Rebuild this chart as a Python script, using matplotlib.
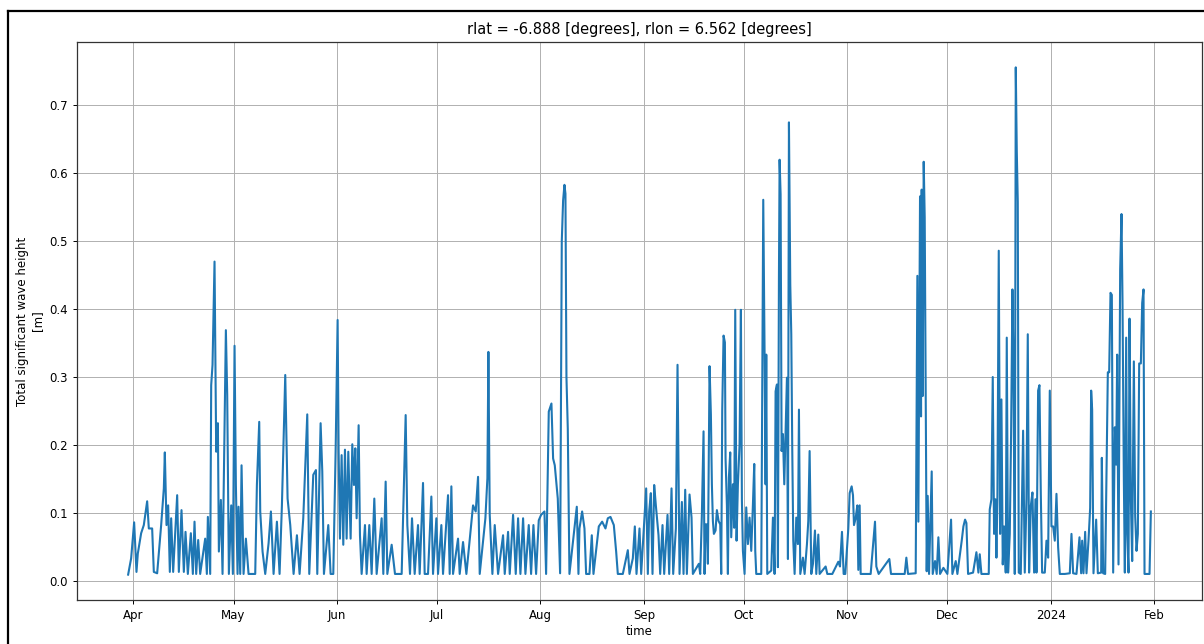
# Significant wave height time series at one grid point
import matplotlib
matplotlib.use('Agg')
import matplotlib.pyplot as plt
import matplotlib.dates as mdates
from matplotlib.lines import Line2D
import pandas as pd

start = pd.Timestamp('2023-04-01')

# days since 2023-04-01 and wave height [m]
days_spring = [-1.6, -0.7, 0.2, 0.9, 1.3, 2.3, 3.1, 4.1, 4.6, 5.6,
               6.1, 7.1, 8.3, 9.1, 9.4, 9.9, 10.4, 10.9, 11.3, 11.9,
               13.1, 13.6, 14.4, 15.1, 15.6, 16.3, 17.2, 17.8, 18.3, 18.8,
               19.4, 20.0, 21.5, 22.0, 22.3, 23.0, 23.3, 23.7, 24.3, 24.8,
               25.3, 25.6, 26.2, 26.7, 27.7, 28.1, 28.6, 29.3, 29.8, 30.3,
               30.7, 31.2, 31.5, 32.0, 32.4, 33.0, 33.7, 34.5, 36.5, 37.0,
               37.7, 38.0, 38.7, 39.5, 40.5, 41.2, 42.0, 43.0, 43.8, 44.5,
               45.5, 46.2, 47.0, 48.0, 49.0, 49.8, 50.9, 52.1, 52.7, 53.9,
               54.7, 55.1, 56.1, 56.6, 57.1, 58.4, 59.1, 59.9, 60.6, 61.2,
               61.5, 61.9, 62.4, 62.9, 63.4, 63.9, 64.4, 65.1, 65.6, 66.1,
               66.5, 66.9, 67.5, 67.9, 68.4, 69.4, 69.9, 70.7, 71.4, 72.2,
               72.9, 74.4, 74.9, 75.6, 76.1, 77.4, 78.4, 80.4, 81.6, 82.1,
               82.9, 83.5, 84.3, 85.3, 85.8, 86.8, 87.3, 88.3, 89.3, 89.8]
hs_spring = [0.009, 0.033, 0.086, 0.013, 0.040, 0.070, 0.082, 0.117, 0.077, 0.077,
             0.013, 0.011, 0.082, 0.136, 0.189, 0.082, 0.111, 0.013, 0.092, 0.013,
             0.126, 0.013, 0.104, 0.013, 0.072, 0.010, 0.070, 0.010, 0.087, 0.010,
             0.060, 0.010, 0.062, 0.010, 0.094, 0.010, 0.288, 0.318, 0.470, 0.190,
             0.232, 0.043, 0.119, 0.010, 0.369, 0.274, 0.010, 0.111, 0.010, 0.346,
             0.141, 0.010, 0.109, 0.010, 0.170, 0.010, 0.062, 0.010, 0.010, 0.141,
             0.234, 0.102, 0.043, 0.010, 0.055, 0.102, 0.010, 0.087, 0.010, 0.111,
             0.303, 0.121, 0.082, 0.010, 0.067, 0.010, 0.092, 0.245, 0.010, 0.156,
             0.163, 0.010, 0.232, 0.161, 0.010, 0.082, 0.010, 0.010, 0.190, 0.384,
             0.190, 0.062, 0.185, 0.053, 0.193, 0.062, 0.190, 0.062, 0.201, 0.141,
             0.195, 0.092, 0.229, 0.067, 0.010, 0.082, 0.010, 0.082, 0.010, 0.121,
             0.010, 0.092, 0.010, 0.146, 0.010, 0.053, 0.010, 0.010, 0.244, 0.082,
             0.010, 0.092, 0.010, 0.082, 0.010, 0.144, 0.010, 0.010, 0.124, 0.010]

days_summer = [90.8, 91.3, 92.3, 92.8, 94.3, 94.8, 95.3, 95.8, 97.3, 97.8,
               98.8, 99.8, 101.8, 102.6, 103.3, 103.8, 105.5, 106.1, 106.4, 106.8,
               107.6, 108.3, 109.3, 110.8, 111.3, 112.3, 112.8, 113.8, 114.6, 115.3,
               116.0, 116.8, 117.5, 118.5, 119.2, 119.9, 120.7, 121.5, 122.2, 123.2,
               123.7, 124.5, 125.3, 125.8, 126.3, 127.2, 127.9, 128.4, 128.8, 129.2,
               129.5, 129.8, 130.2, 130.7, 132.9, 133.4, 133.7, 134.5, 135.2, 135.7,
               136.7, 137.4, 137.9, 139.5, 140.5, 141.5, 142.2, 143.0, 144.0, 144.7,
               145.2, 146.7, 148.2, 148.7, 149.7, 150.3, 150.8, 151.7, 152.2, 153.7,
               154.2, 154.6, 155.1, 155.6, 156.1, 156.6, 157.4, 157.9, 158.6, 159.1,
               160.1, 160.6, 161.3, 161.8, 162.6, 163.1, 163.7, 164.4, 164.9, 165.4,
               165.9]
hs_summer = [0.092, 0.010, 0.082, 0.010, 0.126, 0.010, 0.139, 0.010, 0.062, 0.010,
             0.057, 0.010, 0.111, 0.102, 0.153, 0.010, 0.092, 0.151, 0.337, 0.097,
             0.010, 0.082, 0.010, 0.067, 0.010, 0.072, 0.010, 0.097, 0.010, 0.092,
             0.010, 0.092, 0.010, 0.082, 0.010, 0.082, 0.010, 0.089, 0.097, 0.102,
             0.010, 0.249, 0.261, 0.180, 0.170, 0.121, 0.011, 0.500, 0.560, 0.583,
             0.570, 0.300, 0.224, 0.010, 0.109, 0.010, 0.077, 0.102, 0.077, 0.010,
             0.010, 0.067, 0.010, 0.080, 0.087, 0.077, 0.092, 0.094, 0.082, 0.043,
             0.010, 0.010, 0.045, 0.010, 0.033, 0.080, 0.010, 0.077, 0.010, 0.136,
             0.010, 0.102, 0.129, 0.010, 0.141, 0.111, 0.067, 0.010, 0.082, 0.010,
             0.097, 0.010, 0.136, 0.010, 0.077, 0.318, 0.010, 0.116, 0.010, 0.134,
             0.010]

days_autumn = [166.7, 167.3, 167.7, 169.5, 169.9, 170.4, 170.9, 171.2, 171.5, 171.9,
               172.2, 172.7, 173.1, 173.4, 173.7, 174.0, 174.5, 174.9, 175.4, 175.9,
               176.2, 176.5, 176.9, 177.3, 177.5, 177.9, 178.2, 178.5, 178.9, 179.2,
               179.7, 180.1, 180.4, 180.8, 181.2, 181.7, 182.1, 182.4, 182.7, 183.2,
               183.7, 184.2, 184.7, 185.2, 185.7, 186.1, 186.4, 186.7, 188.2, 188.4,
               188.6, 188.8, 189.2, 189.5, 189.7, 190.0, 191.2, 191.7, 192.2, 192.5,
               192.9, 193.2, 193.5, 193.7, 194.0, 194.3, 194.7, 195.1, 195.5, 195.9,
               196.2, 196.5, 196.9, 197.2, 197.5, 197.8, 198.2, 198.7, 199.2, 199.5,
               199.9, 200.7, 201.2, 201.9, 202.3, 202.7, 203.2, 203.7, 204.3, 204.7,
               205.3, 205.7, 207.5, 208.0, 209.5, 211.3, 211.8, 212.4, 212.9, 213.4,
               214.3, 214.7, 215.3, 215.7, 216.0, 216.5, 217.0, 217.3, 217.7, 218.0,
               219.0, 221.0, 222.3, 222.7, 223.4, 226.6, 227.1, 231.2, 231.7, 232.2,
               234.5]
hs_autumn = [0.127, 0.093, 0.010, 0.025, 0.010, 0.098, 0.220, 0.010, 0.083, 0.083,
             0.025, 0.316, 0.245, 0.142, 0.088, 0.069, 0.074, 0.104, 0.088, 0.083,
             0.010, 0.251, 0.361, 0.351, 0.180, 0.111, 0.010, 0.152, 0.189, 0.064,
             0.142, 0.078, 0.399, 0.059, 0.142, 0.201, 0.399, 0.118, 0.044, 0.010,
             0.108, 0.054, 0.093, 0.044, 0.112, 0.172, 0.044, 0.010, 0.010, 0.199,
             0.409, 0.561, 0.333, 0.142, 0.333, 0.010, 0.015, 0.093, 0.010, 0.279,
             0.289, 0.020, 0.446, 0.620, 0.569, 0.191, 0.216, 0.142, 0.221, 0.299,
             0.032, 0.675, 0.436, 0.363, 0.191, 0.059, 0.010, 0.093, 0.054, 0.252,
             0.010, 0.034, 0.010, 0.054, 0.088, 0.191, 0.010, 0.025, 0.074, 0.010,
             0.068, 0.010, 0.021, 0.010, 0.010, 0.028, 0.021, 0.072, 0.010, 0.010,
             0.077, 0.129, 0.139, 0.126, 0.082, 0.092, 0.111, 0.016, 0.111, 0.010,
             0.010, 0.010, 0.087, 0.021, 0.010, 0.032, 0.010, 0.010, 0.034, 0.010,
             0.011]

days_winter = [235.0, 235.3, 235.8, 236.1, 236.3, 236.6, 236.9, 237.2, 237.5, 237.8,
               238.1, 238.5, 239.3, 239.6, 240.3, 240.8, 241.3, 241.8, 242.8, 244.0,
               245.1, 245.5, 246.5, 247.0, 248.3, 248.8, 249.3, 249.7, 250.2, 251.7,
               252.7, 253.3, 253.7, 254.2, 255.2, 256.4, 256.7, 257.2, 257.6, 258.0,
               258.4, 258.7, 259.0, 259.4, 259.8, 260.2, 260.6, 261.0, 261.5, 261.8,
               262.2, 262.7, 263.1, 263.5, 263.8, 264.2, 264.5, 264.8, 265.1, 265.4,
               266.0, 266.7, 267.2, 267.7, 268.1, 268.5, 269.0, 269.5, 270.0, 270.4,
               270.7, 271.2, 271.6, 272.0, 272.4, 273.2, 273.7, 274.2, 274.7, 275.2,
               275.7, 276.2, 276.7, 277.2, 277.7, 279.2, 280.7, 281.2, 281.7, 282.7,
               283.6, 284.1, 284.4, 284.8, 285.3, 285.7, 286.3, 286.8, 287.1, 287.4,
               287.8, 288.6, 289.1, 290.1, 290.3, 290.7, 291.3, 292.1, 292.5, 292.9,
               293.3, 293.7, 294.2, 294.6, 294.9, 295.3, 295.8, 296.2, 296.5, 296.9,
               297.2, 297.6, 297.9, 298.3, 298.6, 299.0, 299.4, 299.9, 300.3, 300.7,
               301.1, 301.5, 302.0, 302.4, 302.8, 303.1, 304.6, 305.0]
hs_winter = [0.449, 0.087, 0.566, 0.242, 0.576, 0.272, 0.617, 0.535, 0.272, 0.014,
             0.125, 0.010, 0.161, 0.010, 0.029, 0.010, 0.064, 0.010, 0.019, 0.010,
             0.090, 0.010, 0.029, 0.010, 0.059, 0.080, 0.090, 0.085, 0.010, 0.012,
             0.042, 0.012, 0.039, 0.010, 0.010, 0.010, 0.105, 0.120, 0.300, 0.069,
             0.120, 0.034, 0.125, 0.486, 0.069, 0.267, 0.024, 0.080, 0.012, 0.358,
             0.012, 0.069, 0.216, 0.429, 0.323, 0.010, 0.756, 0.634, 0.558, 0.012,
             0.010, 0.221, 0.012, 0.120, 0.363, 0.012, 0.110, 0.130, 0.012, 0.120,
             0.012, 0.280, 0.288, 0.130, 0.012, 0.012, 0.059, 0.034, 0.280, 0.080,
             0.080, 0.059, 0.128, 0.049, 0.010, 0.010, 0.011, 0.069, 0.011, 0.010,
             0.064, 0.011, 0.059, 0.011, 0.072, 0.011, 0.059, 0.107, 0.280, 0.252,
             0.011, 0.090, 0.011, 0.012, 0.181, 0.011, 0.010, 0.307, 0.307, 0.424,
             0.421, 0.012, 0.226, 0.171, 0.333, 0.024, 0.459, 0.540, 0.411, 0.150,
             0.012, 0.358, 0.069, 0.012, 0.386, 0.120, 0.029, 0.323, 0.095, 0.044,
             0.069, 0.320, 0.320, 0.409, 0.429, 0.010, 0.010, 0.102]

days = days_spring + days_summer + days_autumn + days_winter
hs = hs_spring + hs_summer + hs_autumn + hs_winter
time = start + pd.to_timedelta(days, unit='D')

fig = plt.figure(figsize=(12.04, 6.44), dpi=100)
ax = fig.add_axes([77/1204, 1 - 600/644, 1125/1204, 558/644])

ax.plot(time, hs, color='#1f77b4', lw=1.5)

ax.xaxis.set_major_locator(mdates.MonthLocator())
ax.xaxis.set_major_formatter(mdates.ConciseDateFormatter(mdates.MonthLocator()))
ax.grid(True, color='#b0b0b0', lw=0.7)
ax.tick_params(labelsize=8.5, length=3, width=0.7)
for s in ax.spines.values():
    s.set_linewidth(0.9)
    s.set_color('#333333')

ax.set_title('rlat = -6.888 [degrees], rlon = 6.562 [degrees]', fontsize=10.5)
ax.set_xlabel('time', fontsize=8.5, labelpad=2)
ax.set_ylabel('Total significant wave height\n[m]', fontsize=8.5)

# black frame of the screenshot (left and top edges)
fig.add_artist(Line2D([8/1204, 8/1204], [0, 1 - 11/644], color='black', lw=1.6,
                      transform=fig.transFigure))
fig.add_artist(Line2D([8/1204, 1], [1 - 11/644, 1 - 11/644], color='black', lw=1.6,
                      transform=fig.transFigure))

fig.savefig('out.png', dpi=100)
